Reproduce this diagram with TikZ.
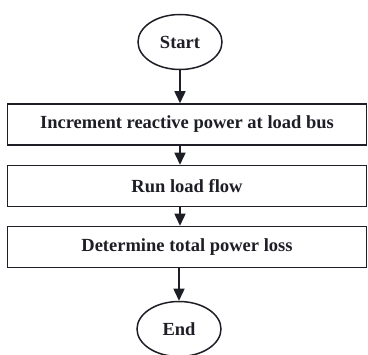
\documentclass[tikz,border=0pt]{standalone}
\usepackage{fontspec}
\setmainfont{Liberation Serif}
\usetikzlibrary{arrows.meta,shapes.geometric}
\definecolor{ink}{RGB}{30,30,38}
\begin{document}
\begin{tikzpicture}[x=1pt,y=-1pt,
  every node/.style={font=\fontsize{18.5}{22}\selectfont\bfseries, text=ink},
  term/.style={draw=ink, line width=1.5pt, ellipse, minimum width=84pt, minimum height=55pt, inner sep=0pt},
  proc/.style={draw=ink, line width=1.5pt, rectangle, minimum width=359pt, minimum height=41pt, inner sep=0pt},
  arr/.style={draw=ink, line width=1.5pt, -{Triangle[length=12pt,width=11pt]}}]
\useasboundingbox (0,0) rectangle (368,355);
\node[term] (start) at (180,42) {Start};
\node[proc] (b1) at (187,124.5) {Increment reactive power at load bus};
\node[proc] (b2) at (187,186) {Run load flow};
\node[proc] (b3) at (187,247) {Determine total power loss};
\node[term] (end) at (179,329) {End};
\draw[arr] (start.south) -- (start.south |- b1.north);
\draw[arr] (b1.south -| start.south) -- (start.south |- b2.north);
\draw[arr] (b2.south -| start.south) -- (start.south |- b3.north);
\draw[arr] (b3.south -| end.north) -- (end.north);
\end{tikzpicture}
\end{document}
